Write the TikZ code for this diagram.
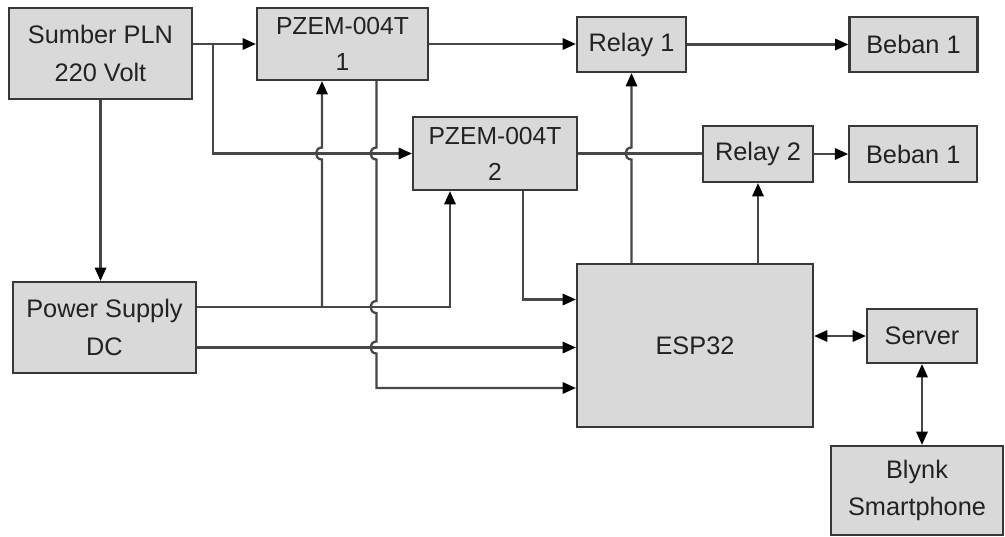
\documentclass[tikz,border=0pt]{standalone}
\usepackage{fontspec}
\setmainfont{Liberation Sans}
\usepackage{xcolor}
\definecolor{boxgray}{HTML}{D9D9D9}
\definecolor{edgegray}{HTML}{383838}
\definecolor{wiregray}{HTML}{474747}
\definecolor{textgray}{HTML}{222222}
\usetikzlibrary{arrows.meta, positioning, calc}
\tikzset{
  blk/.style ={rectangle, draw=edgegray, line width=1.6pt, fill=boxgray, text=textgray, align=center,
               inner sep=1pt, font=\fontsize{19}{28}\selectfont},
  blkp/.style={blk, font=\fontsize{18.5}{27}\selectfont},
  wline/.style={line width=1.7pt, draw=wiregray},
  warr/.style ={wline, -{Triangle[length=10pt, width=8.5pt, color=black]}},
  warrd/.style={wline, {Triangle[length=10pt, width=8.5pt, color=black]}-{Triangle[length=10pt, width=8.5pt, color=black]}},
}
\newcommand{\hopup}[1]{-- ($#1+(0,6)$) .. controls ($#1+(-8,6)$) and ($#1+(-8,-6)$) .. ($#1+(0,-6)$)}
\newcommand{\hopdn}[1]{-- ($#1+(0,-6)$) .. controls ($#1+(-8,-6)$) and ($#1+(-8,6)$) .. ($#1+(0,6)$)}

\begin{document}
\begin{tikzpicture}[x=0.75pt, y=-0.75pt]
  \useasboundingbox (0,0) rectangle (1005,536);
  \node[blk, minimum width=137.25pt, minimum height=68.25pt] (src) at (100.5,53.5) {Sumber PLN\\220 Volt};
  \node[blkp, minimum width=128.25pt, minimum height=54pt] (pzem1) at (342.5,44) {PZEM-004T\\1};
  \node[blkp, minimum width=123pt, minimum height=54.75pt] (pzem2) at (495,153.5) {PZEM-004T\\2};
  \node[blk, minimum width=81.75pt, minimum height=41.25pt] (relay1) at (631.5,44.5) {Relay 1};
  \node[blk, minimum width=96pt, minimum height=41.25pt, right=121pt of relay1] (ban1) {Beban 1};
  \node[blk, minimum width=82.5pt, minimum height=42pt] (relay2) at (758,154) {Relay 2};
  \node[blk, minimum width=96pt, minimum height=42pt, right=25.6pt of relay2] (ban2) {Beban 1};
  \node[blk, minimum width=137.25pt, minimum height=68.25pt] (psu) at (104.5,327.5) {Power Supply\\DC};
  \node[blk, minimum width=177pt, minimum height=122.25pt] (esp) at (695,345.5) {ESP32};
  \node[blk, minimum width=82.5pt, minimum height=40.5pt] (server) at (922,336) {Server};
  \node[blk, minimum width=129pt, minimum height=66.75pt] (blynk) at (917,490.5) {Blynk\\Smartphone};

  \coordinate (fork) at (213,44);
  \coordinate (psA) at ($(psu.east)+(0,-20.5)$);
  \coordinate (psB) at ($(psu.east)+(0,20)$);
  \coordinate (p1in) at ($(pzem1.south)+(-20.5,0)$);
  \coordinate (p1out) at ($(pzem1.south)+(34,0)$);
  \coordinate (p2in) at ($(pzem2.south)+(-45,0)$);
  \coordinate (p2out) at ($(pzem2.south)+(28,0)$);
  \coordinate (espA) at ($(esp.west)+(0,-46)$);
  \coordinate (espC) at ($(esp.west)+(0,42.5)$);

  \draw[warr] (src.east |- pzem1.west) -- (pzem1.west);
  \draw[warr] (fork) -- (fork |- pzem2.west) -- (pzem2.west);
  \draw[warr] (src.south) -- (src.south |- psu.north);
  \draw[warr] (pzem1.east) -- (pzem1.east -| relay1.west);
  \draw[warr] (relay1) -- (ban1);
  \draw[wline] (pzem2.east) -- (pzem2.east -| relay2.west);
  \draw[warr] (relay2) -- (ban2);
  \draw[warr] (relay1.south |- esp.north) \hopup{(relay1.south |- pzem2.east)} -- (relay1.south);
  \draw[warr] (relay2.south |- esp.north) -- (relay2.south);
  \draw[warr] (psA) -| (p2in);
  \draw[warr] (psA -| p1in) \hopup{(p1in |- pzem2.west)} -- (p1in);
  \draw[warr] (p1out) \hopdn{(p1out |- pzem2.west)} \hopdn{(p1out |- psA)} \hopdn{(p1out |- psB)} -- (p1out |- espC) -- (espC);
  \draw[warr] (psB) -- (psB -| esp.west);
  \draw[warr] (p2out) |- (espA);
  \draw[warrd] (esp.east |- server.west) -- (server.west);
  \draw[warrd] (server.south) -- (server.south |- blynk.north);
\end{tikzpicture}
\end{document}
